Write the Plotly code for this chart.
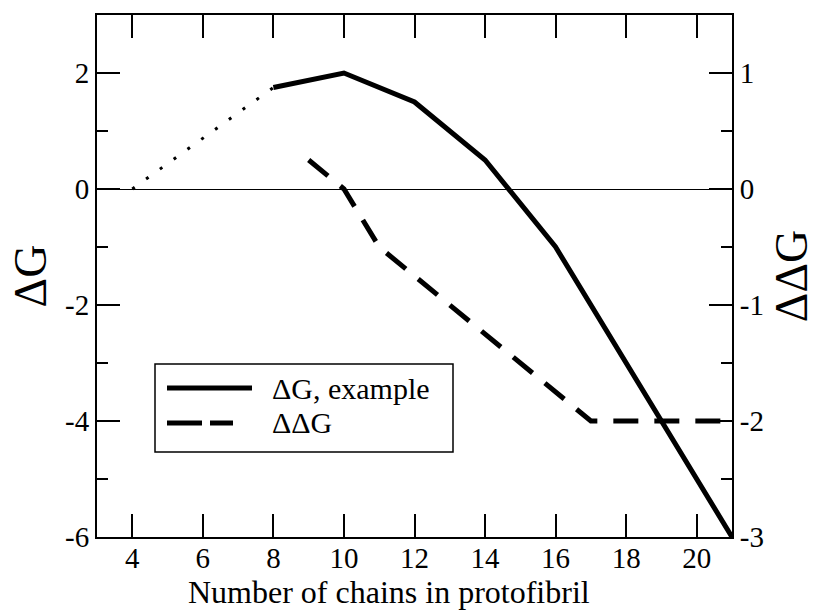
import plotly.graph_objects as go

# Number of chains in the protofibril
dg_dot_x = [4, 8]
dg_dot_y = [0, 1.75]

dg_x = [8, 10, 12, 14, 16, 17, 18, 19, 20, 21]
dg_y = [1.75, 2, 1.5, 0.5, -1, -2, -3, -4, -5, -6]

ddg_x = [9, 10, 11, 12, 13, 14, 15, 16, 17, 18, 19, 20, 21]
ddg_y = [0.25, 0, -0.5, -0.75, -1, -1.25, -1.5, -1.75, -2, -2, -2, -2, -2]

x_ticks = [4, 6, 8, 10, 12, 14, 16, 18, 20]
y_ticks = [-6, -4, -2, 0, 2]
y2_ticks = [-3, -2, -1, 0, 1]

x_title = "Number of chains in protofibril"
legend_labels = ["ΔG, example", "ΔΔG"]

FONT = "Liberation Serif, Times New Roman, serif"
W, H = 819, 610
ML, MR, MT, MB = 97, 87, 15, 73
PW, PH = W - ML - MR, H - MT - MB


def px(xp):
    return (xp - ML) / PW


def py(yp):
    return (H - MB - yp) / PH


def tick_labels(vals):
    return [str(v) for v in vals]


fig = go.Figure()

fig.add_trace(go.Scatter(
    x=dg_dot_x, y=dg_dot_y, mode="lines", showlegend=False,
    line=dict(color="black", width=3, dash="3px,14px"),
))
fig.add_trace(go.Scatter(
    x=dg_x, y=dg_y, mode="lines", showlegend=False,
    line=dict(color="black", width=5),
))
fig.add_trace(go.Scatter(
    x=ddg_x, y=ddg_y, mode="lines", showlegend=False, yaxis="y2",
    line=dict(color="black", width=5, dash="25px,16px"),
))

axis_common = dict(
    showline=True, linecolor="black", linewidth=2,
    ticks="inside", tickcolor="black", tickwidth=2, ticklen=23,
    showgrid=False, automargin=False,
    tickfont=dict(family=FONT, size=29, color="black"),
)

fig.update_layout(
    width=W, height=H,
    margin=dict(l=ML, r=MR, t=MT, b=MB, autoexpand=False),
    paper_bgcolor="white", plot_bgcolor="white",
    font=dict(family=FONT, color="black"),
    xaxis=dict(
        range=[3, 21], tickvals=x_ticks, ticktext=tick_labels(x_ticks), mirror="ticks",
        zeroline=False, ticklabelstandoff=-6, **axis_common,
    ),
    yaxis=dict(
        range=[-6, 3], tickvals=y_ticks, ticktext=tick_labels(y_ticks), mirror=True,
        minor=dict(dtick=1, tick0=0, ticks="inside", ticklen=11, tickwidth=2, tickcolor="black"),
        zeroline=True, zerolinecolor="black", zerolinewidth=1,
        title=dict(text="ΔG", font=dict(family=FONT, size=46, color="black"), standoff=4),
        **axis_common,
    ),
    yaxis2=dict(
        range=[-3, 1.5], tickvals=y2_ticks, ticktext=tick_labels(y2_ticks),
        overlaying="y", side="right",
        minor=dict(dtick=0.5, tick0=0, ticks="inside", ticklen=11, tickwidth=2, tickcolor="black"),
        zeroline=False,
        title=dict(text="ΔΔG", font=dict(family=FONT, size=46, color="black"), standoff=12),
        **axis_common,
    ),
)

# Legend box drawn with shapes and annotations
shapes = [
    dict(type="rect", xref="paper", yref="paper",
         x0=px(155), x1=px(453), y0=py(452), y1=py(364),
         line=dict(color="black", width=1.5), fillcolor="white", layer="above"),
    dict(type="line", xref="paper", yref="paper",
         x0=px(167), x1=px(252), y0=py(388), y1=py(388),
         line=dict(color="black", width=5)),
    dict(type="line", xref="paper", yref="paper",
         x0=px(167), x1=px(233), y0=py(423), y1=py(423),
         line=dict(color="black", width=5, dash="35px,8px")),
]
annotations = [
    dict(text=legend_labels[0], xref="paper", yref="paper", x=px(270), y=py(388),
         xanchor="left", yanchor="middle", showarrow=False,
         font=dict(family=FONT, size=30, color="black")),
    dict(text=legend_labels[1], xref="paper", yref="paper", x=px(270), y=py(423),
         xanchor="left", yanchor="middle", showarrow=False,
         font=dict(family=FONT, size=30, color="black")),
    dict(text=x_title, xref="paper", yref="paper", x=px(389), y=py(592),
         xanchor="center", yanchor="middle", showarrow=False,
         font=dict(family=FONT, size=32, color="black")),
]
fig.update_layout(shapes=shapes, annotations=annotations)

fig.write_html("out.html")
